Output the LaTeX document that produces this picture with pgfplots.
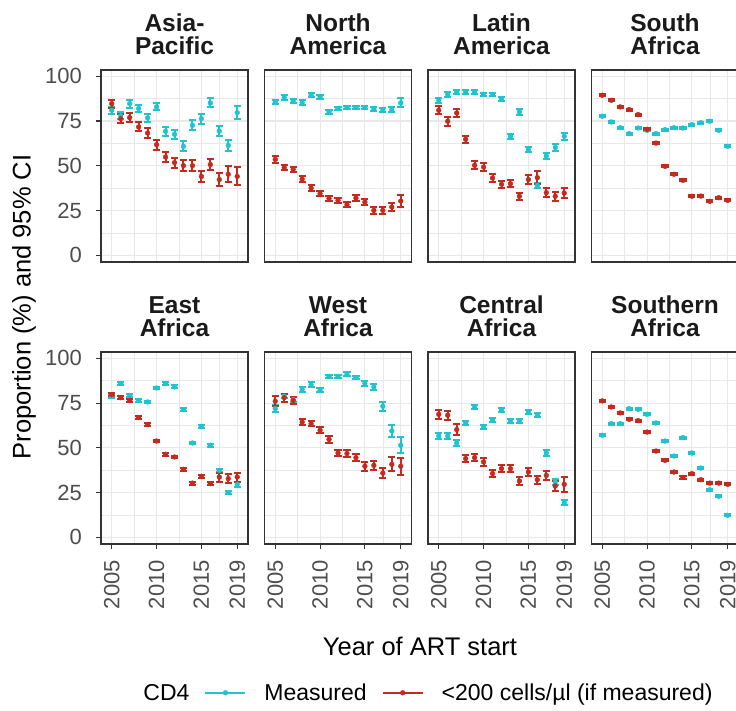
\documentclass[border=0pt]{standalone}
\usepackage{pgfplots}
\usepackage{pgfplotstable}
\pgfplotsset{compat=1.18}
\usepackage{fontspec}
\setmainfont{Liberation Sans}

\definecolor{cdmeas}{RGB}{32,196,206}
\definecolor{cdlow}{RGB}{196,42,30}
\definecolor{gridc}{RGB}{232,232,232}
\definecolor{framec}{RGB}{51,51,51}
\definecolor{ticktext}{RGB}{77,77,77}
\definecolor{striptext}{RGB}{26,26,26}

% columns: year, measured (%), its CI half-width, <200 cells (%), its CI half-width
\pgfplotstableread{
yr   meas me   low  le
2005 81.0 2.0 84.7 2.2
2006 78.0 2.0 76.3 2.5
2007 84.7 2.2 76.9 2.5
2008 82.0 2.2 71.7 2.5
2009 76.7 2.5 68.3 2.8
2010 82.9 2.0 61.8 2.8
2011 69.3 2.5 54.9 2.8
2012 67.6 2.5 51.8 2.8
2013 60.9 2.8 50.1 3.0
2014 72.6 2.8 50.1 3.0
2015 76.3 2.8 44.1 3.2
2016 85.1 2.5 50.7 3.2
2017 69.4 3.0 42.3 3.5
2018 61.4 3.0 45.3 4.5
2019 79.7 3.5 44.1 5.0
}\tAP
\pgfplotstableread{
yr   meas me   low  le
2005 85.6 1.2 53.6 1.8
2006 88.1 1.2 49.0 1.6
2007 86.2 1.2 48.0 1.6
2008 85.3 1.2 42.5 1.6
2009 89.4 1.0 37.6 1.6
2010 88.4 1.0 34.5 1.6
2011 80.1 1.0 31.7 1.5
2012 82.0 1.0 30.7 1.5
2013 82.5 1.0 28.3 1.5
2014 82.5 1.0 32.0 1.5
2015 82.5 1.0 29.8 1.6
2016 81.6 1.2 25.1 1.8
2017 81.0 1.2 25.1 1.8
2018 81.3 1.5 27.0 2.2
2019 85.1 2.5 30.3 3.2
}\tNA
\pgfplotstableread{
yr   meas me   low  le
2005 86.6 1.5 81.0 2.2
2006 89.8 1.2 74.9 2.5
2007 91.1 1.0 79.5 2.2
2008 91.1 1.0 64.8 2.0
2009 91.1 1.0 50.3 2.2
2010 89.9 1.0 49.3 2.0
2011 89.9 1.0 43.2 2.0
2012 87.2 1.2 39.7 2.0
2013 66.5 1.5 40.0 2.0
2014 80.1 1.5 33.0 2.0
2015 59.0 1.5 42.3 2.5
2016 39.1 1.5 43.4 3.5
2017 55.5 1.8 35.0 2.5
2018 60.2 1.8 33.0 2.5
2019 66.5 2.0 34.8 2.8
}\tLA
\pgfplotstableread{
yr   meas me   low  le
2005 77.7 0.6 89.4 0.6
2006 74.5 0.6 86.6 0.6
2007 71.3 0.6 82.9 0.6
2008 68.0 0.6 81.4 0.6
2009 71.1 0.6 78.6 0.6
2010 69.8 0.6 70.4 0.6
2011 68.0 0.6 62.7 0.6
2012 70.2 0.6 49.7 0.6
2013 71.3 0.6 45.3 0.6
2014 71.1 0.6 41.9 0.6
2015 73.0 0.6 33.0 0.6
2016 74.1 0.6 33.1 0.6
2017 74.9 0.6 30.2 0.6
2018 69.8 0.6 32.2 0.6
2019 60.9 0.6 30.7 0.6
}\tSA
\pgfplotstableread{
yr   meas me   low  le
2005 78.8 0.8 79.7 0.8
2006 85.9 0.8 78.0 0.8
2007 79.3 0.8 76.5 0.8
2008 76.5 0.8 66.9 0.8
2009 75.6 0.8 63.0 0.8
2010 83.4 0.8 53.8 0.8
2011 85.9 0.8 46.4 0.8
2012 84.0 0.8 44.9 0.8
2013 71.3 0.8 38.0 0.8
2014 52.7 0.8 30.3 0.8
2015 62.0 0.8 34.1 0.8
2016 51.4 0.8 30.0 0.8
2017 37.4 1.0 33.7 2.5
2018 25.0 1.0 32.8 2.5
2019 29.6 1.2 33.7 2.5
}\tEA
\pgfplotstableread{
yr   meas me   low  le
2005 71.9 2.0 76.0 2.8
2006 78.8 1.2 78.0 2.2
2007 76.9 1.2 76.5 2.0
2008 82.5 1.2 64.4 1.5
2009 85.3 1.2 63.5 1.5
2010 82.1 1.2 59.8 1.8
2011 89.9 1.0 54.7 1.8
2012 89.9 1.0 47.1 1.8
2013 91.1 1.0 46.8 1.8
2014 89.2 1.0 44.5 2.0
2015 85.9 1.2 39.7 2.5
2016 84.0 1.5 40.2 2.5
2017 73.2 2.5 35.9 3.0
2018 59.4 3.5 40.8 4.0
2019 51.4 4.5 39.7 4.8
}\tWA
\pgfplotstableread{
yr   meas me   low  le
2005 56.6 1.5 68.7 2.5
2006 56.6 1.5 68.2 2.5
2007 52.7 1.5 60.2 3.0
2008 63.9 1.2 44.0 2.0
2009 72.8 1.2 44.5 2.0
2010 61.6 1.2 42.1 2.0
2011 65.7 1.2 35.6 2.0
2012 71.3 1.2 38.4 2.0
2013 65.0 1.2 38.4 2.0
2014 65.0 1.2 31.5 2.2
2015 70.0 1.2 36.5 2.2
2016 68.2 1.2 32.2 2.2
2017 47.1 1.5 34.6 2.5
2018 30.9 1.5 28.7 3.0
2019 19.4 1.5 29.6 4.0
}\tCA
\pgfplotstableread{
yr   meas me   low  le
2005 57.0 0.6 76.2 0.6
2006 63.5 0.6 72.8 0.6
2007 63.5 0.6 69.5 0.6
2008 71.9 0.6 65.9 0.6
2009 71.5 0.6 65.2 0.6
2010 68.7 0.6 58.8 0.6
2011 63.9 0.6 48.2 0.6
2012 53.8 0.6 43.0 0.6
2013 45.4 0.6 36.5 0.6
2014 55.7 0.6 33.4 0.6
2015 47.1 0.6 35.6 0.6
2016 38.7 0.6 32.2 0.6
2017 26.6 0.6 30.3 0.6
2018 22.9 0.6 30.3 0.6
2019 12.3 0.6 29.6 0.6
}\tSAf

\pgfplotsset{
  facet/.style={
    scale only axis, width=147bp, height=192bp, anchor=north west,
    xmin=2003.8, xmax=2020.2, ymin=-3.7, ymax=103.5,
    xtick={2005,2010,2015,2019}, ytick={0,25,50,75,100},
    minor xtick={2007.5,2012.5,2017}, minor ytick={12.5,37.5,62.5,87.5},
    xmajorgrids, ymajorgrids, xminorgrids, yminorgrids,
    major grid style={draw=gridc, line width=1.1bp},
    minor grid style={draw=gridc, line width=0.6bp},
    axis line style={draw=framec, line width=1.1bp},
    tick pos=left, tick align=outside,
    major tick length=5bp, minor tick length=0pt,
    every tick/.append style={draw=framec, line width=1.1bp},
    xmajorticks=false, ymajorticks=false,
    /pgf/number format/assume math mode=true,
    /pgf/number format/1000 sep={},
    xticklabel style={font=\fontsize{22bp}{22bp}\selectfont, text=ticktext,
      rotate=90, anchor=east, inner sep=0pt, xshift=-11bp},
    yticklabel style={font=\fontsize{22bp}{22bp}\selectfont, text=ticktext,
      anchor=east, inner sep=0pt, xshift=-14bp},
    title style={font=\fontsize{24.5bp}{23bp}\selectfont\bfseries, text=striptext,
      align=center, anchor=south, at={(0.5,1)}, inner sep=0pt, yshift=9bp},
  },
  leftcol/.style={ymajorticks=true},
  bottomrow/.style={xmajorticks=true},
  meas/.style={only marks, mark=*, color=cdmeas, mark size=2.4bp, forget plot,
    error bars/.cd, y dir=both, y explicit,
    error bar style={line width=2bp, cdmeas},
    error mark options={rotate=90, mark size=3.6bp, line width=2bp, cdmeas}},
  low/.style={only marks, mark=*, color=cdlow, mark size=2.4bp, forget plot,
    error bars/.cd, y dir=both, y explicit,
    error bar style={line width=2bp, cdlow},
    error mark options={rotate=90, mark size=3.6bp, line width=2bp, cdlow}},
  legkey/.style={legend image code/.code={
    \draw[line width=2bp] (0bp,0bp) -- (40bp,0bp);
    \fill (20bp,0bp) circle (2.4bp);}},
}

\newcommand{\facetplots}[1]{%
  \addplot[meas] table[x=yr, y=meas, y error=me] {#1};
  \addplot[low] table[x=yr, y=low, y error=le] {#1};
}

\begin{document}
\begin{tikzpicture}
% top row
\begin{axis}[facet, leftcol, at={(101bp,-70bp)}, title={Asia-\\Pacific}]
  \facetplots{\tAP}
\end{axis}
\begin{axis}[facet, at={(264.5bp,-70bp)}, title={North\\America}]
  \facetplots{\tNA}
\end{axis}
\begin{axis}[facet, at={(428bp,-70bp)}, title={Latin\\America}]
  \facetplots{\tLA}
\end{axis}
\begin{axis}[facet, at={(591.5bp,-70bp)}, title={South\\Africa}]
  \facetplots{\tSA}
\end{axis}
% bottom row
\begin{axis}[facet, leftcol, bottomrow, at={(101bp,-352bp)}, title={East\\Africa},
    legend columns=-1,
    legend style={at={(2.17,-0.775)}, anchor=center, draw=none, fill=none,
      font=\fontsize{23bp}{23bp}\selectfont,
      /tikz/every odd column/.append style={column sep=16bp},
      /tikz/every even column/.append style={column sep=13bp}}]
  \facetplots{\tEA}
  \addlegendimage{empty legend}\addlegendentry{CD4}
  \addlegendimage{legkey, cdmeas}\addlegendentry{Measured}
  \addlegendimage{legkey, cdlow}\addlegendentry{<200 cells/µl (if measured)}
\end{axis}
\begin{axis}[facet, bottomrow, at={(264.5bp,-352bp)}, title={West\\Africa}]
  \facetplots{\tWA}
\end{axis}
\begin{axis}[facet, bottomrow, at={(428bp,-352bp)}, title={Central\\Africa}]
  \facetplots{\tCA}
\end{axis}
\begin{axis}[facet, bottomrow, at={(591.5bp,-352bp)}, title={Southern\\Africa}]
  \facetplots{\tSAf}
\end{axis}
% shared axis titles
\node[rotate=90, font=\fontsize{25.5bp}{25.5bp}\selectfont] at (24bp,-307bp)
  {Proportion (\%) and 95\% CI};
\node[anchor=base, font=\fontsize{25.5bp}{25.5bp}\selectfont] at (420bp,-655bp)
  {Year of ART start};
\pgfresetboundingbox
\useasboundingbox (0bp,0bp) rectangle (736bp,-711bp);
\end{tikzpicture}
\end{document}
